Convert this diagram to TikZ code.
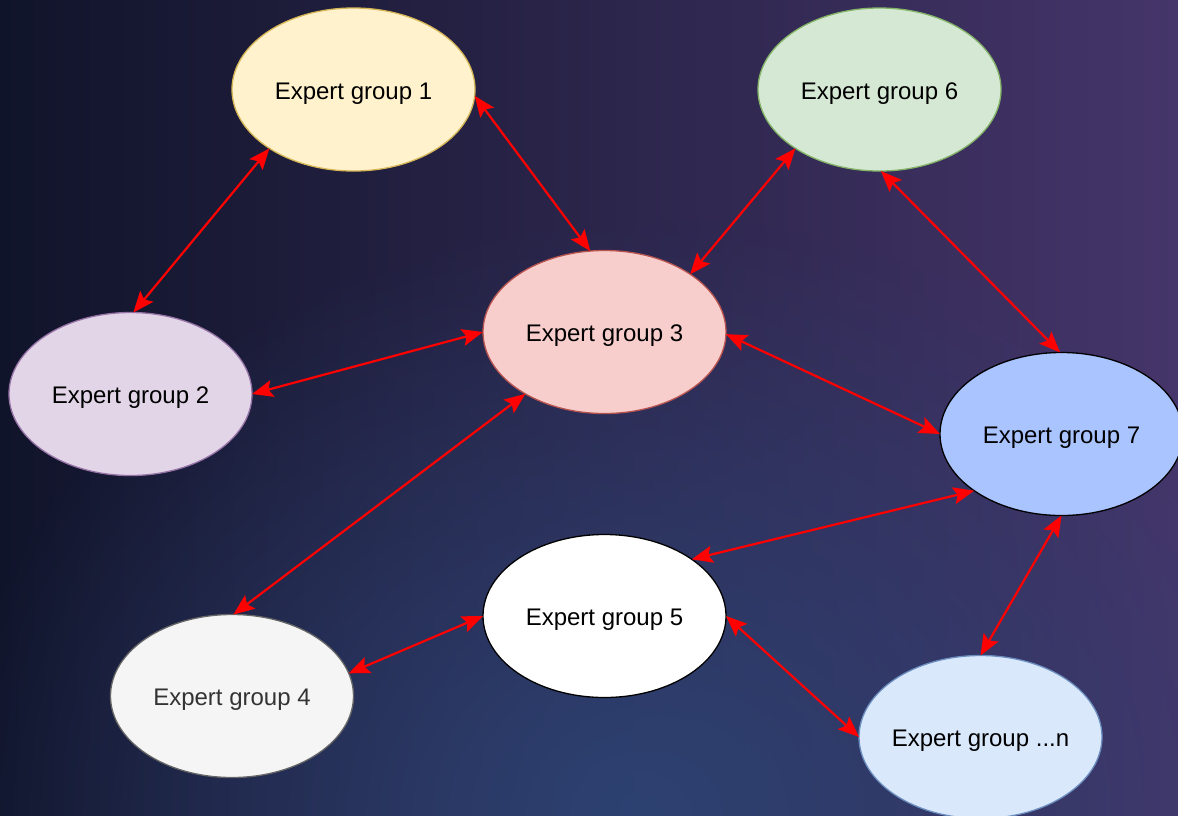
\documentclass[tikz,border=0pt]{standalone}
\usepackage{fontspec}
\setmainfont{Liberation Sans}
\usetikzlibrary{shapes.geometric,arrows.meta,fadings}
\definecolor{bgL}{HTML}{10142A}
\definecolor{bgM}{HTML}{232A56}
\definecolor{bgR}{HTML}{45356A}
\definecolor{glow}{HTML}{2D4272}
\definecolor{f1}{HTML}{FFF2CC}\definecolor{d1}{HTML}{D6B656}
\definecolor{f2}{HTML}{E1D5E7}\definecolor{d2}{HTML}{9673A6}
\definecolor{f3}{HTML}{F8CECC}\definecolor{d3}{HTML}{B85450}
\definecolor{f4}{HTML}{F5F5F5}\definecolor{d4}{HTML}{666666}\definecolor{t4}{HTML}{333333}
\definecolor{f6}{HTML}{D5E8D4}\definecolor{d6}{HTML}{82B366}
\definecolor{f7}{HTML}{A9C4FF}
\definecolor{fn}{HTML}{DAE8FC}\definecolor{dn}{HTML}{6C8EBF}
\tikzfading[name=glowfade, inner color=transparent!0, outer color=transparent!100]
\newcommand{\grplbl}[1]{\raisebox{-4pt}[\height][\depth]{\makebox[0pt]{#1}}}
\begin{document}
\begin{tikzpicture}[x=1pt,y=-1pt,
  grp/.style={ellipse, minimum width=243pt, minimum height=163pt, inner sep=0pt, outer sep=0pt, line width=1.3pt, font=\fontsize{24}{28}\selectfont},
  tipa/.tip={Stealth[length=21pt,width=17pt,inset=4pt]},
  link/.style={red, line width=2.2pt, tipa-tipa}]
\useasboundingbox (0,0) rectangle (1178,815);
\shade[left color=bgL, middle color=bgM, right color=bgR] (0,0) rectangle (1178,815);
\begin{scope}
\clip (0,0) rectangle (1178,815);
\fill[glow, path fading=glowfade] (640,815) ellipse [x radius=700, y radius=600];
\end{scope}
\node[grp, fill=f1, draw=d1] (e1) at (353.5,89.5) {\grplbl{Expert group 1}};
\node[grp, fill=f6, draw=d6] (e6) at (879.5,89.5) {\grplbl{Expert group 6}};
\node[grp, fill=f3, draw=d3] (e3) at (604.5,332) {\grplbl{Expert group 3}};
\node[grp, fill=f2, draw=d2] (e2) at (130.5,394) {\grplbl{Expert group 2}};
\node[grp, fill=f7, draw=black] (e7) at (1061.5,434) {\grplbl{Expert group 7}};
\node[grp, fill=white, draw=black] (e5) at (604.5,616) {\grplbl{Expert group 5}};
\node[grp, fill=f4, draw=d4, text=t4] (e4) at (232,696) {\grplbl{Expert group 4}};
\node[grp, fill=fn, draw=dn] (en) at (980.5,737) {\grplbl{Expert group ...n}};
\draw[link] (e1.215) -- (e2.88);
\draw[link] (e1.357) -- (e3.100);
\draw[link] (e6.215) -- (e3.34);
\draw[link] (e6.271) -- (e7.91);
\draw[link] (e2.0) -- (e3.180);
\draw[link] (e3.359) -- (e7.180);
\draw[link] (e3.218) -- (e4.89);
\draw[link] (e7.213) -- (e5.33);
\draw[link] (e7.270) -- (en.90);
\draw[link] (e4.11) -- (e5.180);
\draw[link] (e5.0) -- (en.180);
\end{tikzpicture}
\end{document}
